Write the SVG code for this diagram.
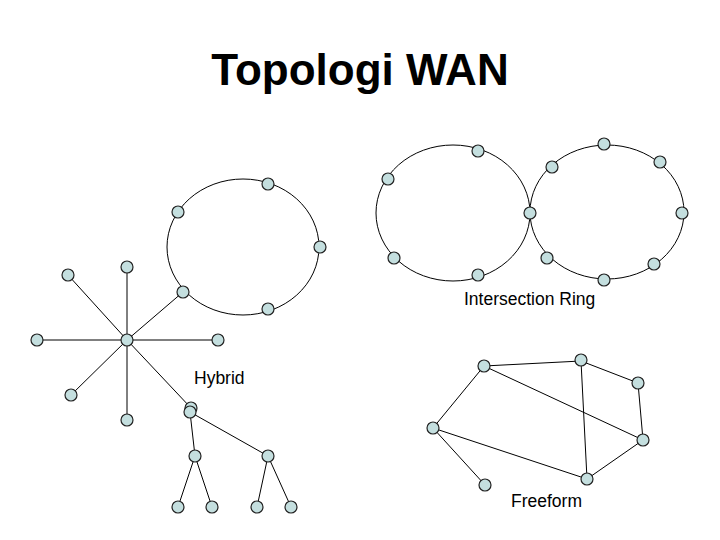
<svg xmlns="http://www.w3.org/2000/svg" width="720" height="540" viewBox="0 0 720 540">
<defs><style>
.n{fill:#c4dfdf;stroke:#222;stroke-width:1.2}
.c line,.c ellipse{stroke:#000;stroke-width:1;fill:none}
.t{font-family:"Liberation Sans",Arial,sans-serif;fill:#000}
</style></defs>
<rect width="720" height="540" fill="#fff"/>
<text class="t" x="360" y="85" font-size="44" font-weight="bold" text-anchor="middle">Topologi WAN</text>
<g id="connectors" class="c">
<ellipse cx="243" cy="247" rx="76" ry="68"/>
<line x1="127" y1="340" x2="68" y2="275"/><line x1="127" y1="340" x2="127" y2="267"/>
<line x1="127" y1="340" x2="37" y2="340"/><line x1="127" y1="340" x2="218" y2="340"/>
<line x1="127" y1="340" x2="71" y2="395"/><line x1="127" y1="340" x2="127" y2="420"/>
<line x1="127" y1="340" x2="183" y2="292"/><line x1="127" y1="340" x2="191" y2="408"/>
<line x1="190" y1="412" x2="195" y2="456"/><line x1="190" y1="412" x2="268" y2="456"/>
<line x1="195" y1="456" x2="178" y2="507"/><line x1="195" y1="456" x2="212" y2="507"/>
<line x1="268" y1="456" x2="257" y2="507"/><line x1="268" y1="456" x2="291" y2="507"/>
<ellipse cx="453" cy="213" rx="77" ry="68"/>
<ellipse cx="607" cy="212" rx="77" ry="67"/>
<line x1="484" y1="366" x2="581" y2="361"/><line x1="581" y1="361" x2="638" y2="383"/>
<line x1="638" y1="383" x2="643" y2="440"/><line x1="484" y1="366" x2="643" y2="440"/>
<line x1="581" y1="361" x2="587" y2="479"/><line x1="643" y1="440" x2="587" y2="479"/>
<line x1="433" y1="428" x2="587" y2="479"/><line x1="433" y1="428" x2="484" y2="366"/>
<line x1="433" y1="428" x2="485" y2="485"/>
</g>
<g id="hybrid">
<circle class="n" cx="268" cy="184" r="6"/><circle class="n" cx="178" cy="212" r="6"/>
<circle class="n" cx="320" cy="247" r="6"/><circle class="n" cx="183" cy="292" r="6"/>
<circle class="n" cx="268" cy="309" r="6"/>
<circle class="n" cx="127" cy="340" r="6"/><circle class="n" cx="68" cy="275" r="6"/>
<circle class="n" cx="127" cy="267" r="6"/><circle class="n" cx="37" cy="340" r="6"/>
<circle class="n" cx="218" cy="340" r="6"/><circle class="n" cx="71" cy="395" r="6"/>
<circle class="n" cx="127" cy="420" r="6"/>
<circle class="n" cx="191" cy="408" r="6"/><circle class="n" cx="190" cy="412" r="6"/>
<circle class="n" cx="195" cy="456" r="6"/><circle class="n" cx="268" cy="456" r="6"/>
<circle class="n" cx="178" cy="507" r="6"/><circle class="n" cx="212" cy="507" r="6"/>
<circle class="n" cx="257" cy="507" r="6"/><circle class="n" cx="291" cy="507" r="6"/>
<text class="t" x="194" y="384" font-size="17.5">Hybrid</text>
</g>
<g id="intersection-ring">
<circle class="n" cx="478" cy="151" r="6"/><circle class="n" cx="388" cy="179" r="6"/>
<circle class="n" cx="530" cy="213" r="6"/><circle class="n" cx="394" cy="258" r="6"/>
<circle class="n" cx="478" cy="275" r="6"/>
<circle class="n" cx="552" cy="167" r="6"/><circle class="n" cx="604" cy="144" r="6"/>
<circle class="n" cx="660" cy="162" r="6"/><circle class="n" cx="682" cy="213" r="6"/>
<circle class="n" cx="547" cy="258" r="6"/><circle class="n" cx="654" cy="264" r="6"/>
<circle class="n" cx="604" cy="280" r="6"/>
<text class="t" x="464" y="305" font-size="17.5">Intersection Ring</text>
</g>
<g id="freeform">
<circle class="n" cx="484" cy="366" r="6"/><circle class="n" cx="581" cy="360" r="6"/>
<circle class="n" cx="638" cy="383" r="6"/><circle class="n" cx="643" cy="440" r="6"/>
<circle class="n" cx="587" cy="479" r="6"/><circle class="n" cx="433" cy="428" r="6"/>
<circle class="n" cx="485" cy="485" r="6"/>
<text class="t" x="511" y="507" font-size="17.5">Freeform</text>
</g>
</svg>
